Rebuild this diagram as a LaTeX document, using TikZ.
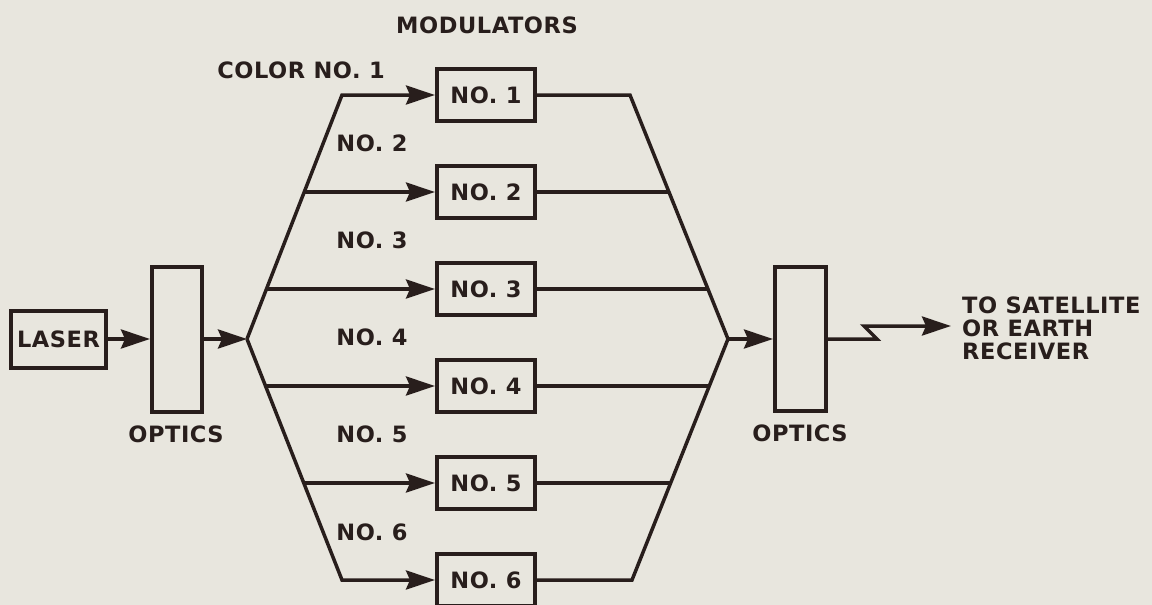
\documentclass[tikz,border=0pt]{standalone}
\usepackage{fontspec}
\setmainfont{DejaVu Sans}[LetterSpace=2.5]
\usetikzlibrary{arrows.meta}
\definecolor{bg}{RGB}{232,230,222}
\definecolor{ink}{RGB}{40,30,28}
\begin{document}
\begin{tikzpicture}[x=1pt,y=-1pt,
  font=\bfseries\fontsize{22.5}{23}\selectfont,
  box/.style={draw=ink, line width=4pt, inner sep=0pt, text=ink},
  modbox/.style={box, minimum width=98pt, minimum height=52pt},
  wire/.style={draw=ink, line width=3.5pt},
  arr/.style={wire, -{Stealth[length=29pt,width=19pt,inset=4pt]}},
  lbl/.style={text=ink, inner sep=0pt}]
\fill[bg] (0,0) rectangle (1152,605);
\useasboundingbox (0,0) rectangle (1152,605);

% input side
\node[box, minimum width=95pt, minimum height=57pt] (laser) at (58.5,339) {LASER};
\node[box, minimum width=50pt, minimum height=145pt] (o1) at (177,339) {};
\node[lbl] (o1lbl) at (176,434) {OPTICS};

% modulators
\node[lbl] (modlbl) at (487,25) {MODULATORS};
\node[modbox] (m1) at (486,95) {NO. 1};
\node[modbox] (m2) at (486,192) {NO. 2};
\node[modbox] (m3) at (486,289) {NO. 3};
\node[modbox] (m4) at (486,386) {NO. 4};
\node[modbox] (m5) at (486,483) {NO. 5};
\node[modbox] (m6) at (486,580) {NO. 6};

\node[lbl] (c1) at (301,70) {COLOR NO. 1};
\node[lbl] (c2) at (372,143) {NO. 2};
\node[lbl] (c3) at (372,240) {NO. 3};
\node[lbl] (c4) at (372,337) {NO. 4};
\node[lbl] (c5) at (372,434) {NO. 5};
\node[lbl] (c6) at (372,532) {NO. 6};

% left fan
\coordinate (F1) at (247,339);
\coordinate (TL) at (342,95);
\coordinate (BL) at (342,580);
\coordinate (l2) at (304,192);
\coordinate (l3) at (266.5,289);
\coordinate (l4) at (265.5,386);
\coordinate (l5) at (303,483);

% right fan
\coordinate (F2) at (728,339);
\coordinate (TR) at (630,95);
\coordinate (BR) at (632,580);
\coordinate (r2) at (669,192);
\coordinate (r3) at (708,289);
\coordinate (r4) at (709,386);
\coordinate (r5) at (670,483);

% output side
\node[box, minimum width=51pt, minimum height=144pt] (o2) at (800.5,339) {};
\node[lbl] (o2lbl) at (800,433) {OPTICS};
\coordinate (z1) at (877,339);
\coordinate (z2) at (864,326);
\coordinate (tip) at (951,326);
\node[lbl, anchor=west, align=left] (dest) at (962,328) {TO SATELLITE\\OR EARTH\\RECEIVER};

% connectors
\draw[arr] (laser) -- (o1);
\draw[arr] (o1) -- (F1);
\draw[arr] (F1) -- (TL) -- (m1);
\draw[arr] (F1) -- (BL) -- (m6);
\draw[arr] (l2) -- (m2);
\draw[arr] (l3) -- (m3);
\draw[arr] (l4) -- (m4);
\draw[arr] (l5) -- (m5);

\draw[wire] (m1) -- (TR) -- (F2) -- (BR) -- (m6);
\draw[wire] (m2) -- (r2);
\draw[wire] (m3) -- (r3);
\draw[wire] (m4) -- (r4);
\draw[wire] (m5) -- (r5);
\draw[arr] (F2) -- (o2);
\draw[arr] (o2) -- (z1) -- (z2) -- (tip);
\end{tikzpicture}
\end{document}
